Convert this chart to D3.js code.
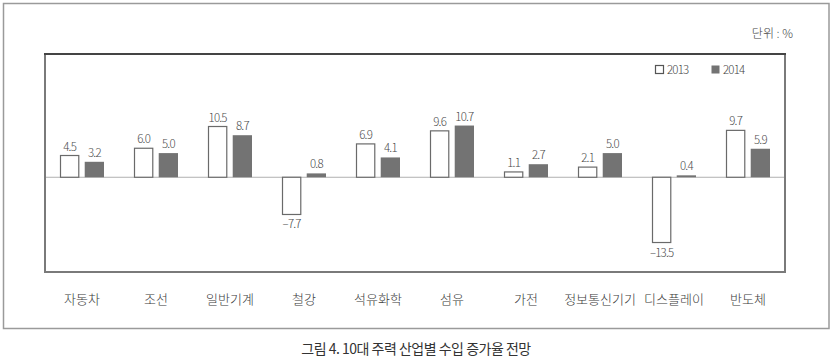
<!DOCTYPE html>
<html><head><meta charset="utf-8">
<script src="https://cdn.jsdelivr.net/npm/d3@7"></script>
<style>
html,body{margin:0;padding:0;background:#fff;}
svg{display:block;}
text{font-family:"Noto Sans CJK KR","Noto Sans",sans-serif;}
</style></head><body>
<svg id="chart" width="833" height="360"></svg>
<script>
const categories = ["자동차","조선","일반기계","철강","석유화학","섬유","가전","정보통신기기","디스플레이","반도체"];
const series = ["2013","2014"];
const values2013 = [4.5, 6.0, 10.5, -7.7, 6.9, 9.6, 1.1, 2.1, -13.5, 9.7];
const values2014 = [3.2, 5.0, 8.7, 0.8, 4.1, 10.7, 2.7, 5.0, 0.4, 5.9];
const unitLabel = "단위 : %";
const caption = "그림 4. 10대 주력 산업별 수입 증가율 전망";

const svg = d3.select("#chart");
const plot = {left:45, right:785, top:54, bottom:272};

// outer frame
svg.append("rect").attr("x",3.5).attr("y",3.5).attr("width",825.5).attr("height",325)
  .attr("fill","none").attr("stroke","#9a9a9a").attr("stroke-width",1.5);

const x = d3.scaleBand().domain(categories).range([plot.left, plot.right]).paddingInner(0).paddingOuter(0);
const xs = d3.scaleBand().domain(series).range([-22, 22]).paddingInner(0.22);
const y = d3.scaleLinear().domain([-19.6, 25.5]).range([plot.bottom, plot.top]);

// zero line
svg.append("line").attr("x1",plot.left).attr("x2",plot.right)
  .attr("y1",y(0)).attr("y2",y(0)).attr("stroke","#b0b0b0").attr("stroke-width",1);

const data = categories.map((c,i)=>({c, vals:[{s:"2013",v:values2013[i]},{s:"2014",v:values2014[i]}]}));
const fmt = v => (v<0 ? "\u2013" : "") + Math.abs(v).toFixed(1);

const g = svg.selectAll("g.cat").data(data).join("g").attr("class","cat")
  .attr("transform", d=>`translate(${x(d.c)+x.bandwidth()/2},0)`);

g.selectAll("rect").data(d=>d.vals).join("rect")
  .attr("x", d=>xs(d.s)+(d.s==="2013"?0.5:0))
  .attr("width", d=>xs.bandwidth()-(d.s==="2013"?1:0))
  .attr("y", d=>Math.min(y(d.v),y(0)))
  .attr("height", d=>Math.abs(y(d.v)-y(0)))
  .attr("fill", d=>d.s==="2013"?"#fff":"#737373")
  .attr("stroke", d=>d.s==="2013"?"#6a6a6a":"none")
  .attr("stroke-width",1.2);

g.selectAll("text.val").data(d=>d.vals).join("text").attr("class","val")
  .attr("x", d=>xs(d.s)+xs.bandwidth()/2)
  .attr("y", d=>d.v>=0 ? y(d.v)-5 : y(d.v)+14)
  .attr("text-anchor","middle").attr("font-size",11.5).attr("fill","#4a4a4a")
  .attr("font-weight",300).attr("letter-spacing",-0.8)
  .text(d=>fmt(d.v));

// plot frame
svg.append("rect").attr("x",plot.left).attr("y",plot.top)
  .attr("width",plot.right-plot.left).attr("height",plot.bottom-plot.top)
  .attr("fill","none").attr("stroke","#7a7a7a").attr("stroke-width",2);
svg.append("line").attr("x1",plot.left-1).attr("x2",plot.right+1).attr("y1",plot.top).attr("y2",plot.top)
  .attr("stroke","#444").attr("stroke-width",2);

// category axis labels
const xAxis = d3.axisBottom(x).tickSize(0).tickPadding(0);
const ax = svg.append("g").attr("transform",`translate(0,${plot.bottom})`).call(xAxis);
ax.select(".domain").remove();
ax.selectAll("text").attr("y",23).attr("font-size",13).attr("fill","#3a3a3a")
  .attr("font-family","\"Noto Sans CJK KR\",sans-serif").attr("font-weight",300);

// unit
svg.append("text").attr("x",793).attr("y",38).attr("text-anchor","end")
  .attr("font-size",12).attr("fill","#444").attr("font-weight",300).text(unitLabel);

// legend
const lg = svg.append("g").attr("class","legend");
const legendX = [655, 711];
series.forEach((s,i)=>{
  lg.append("rect").attr("x",legendX[i]+0.5).attr("y",65.5).attr("width",8).attr("height",8)
    .attr("fill", i===0?"#fff":"#737373").attr("stroke", i===0?"#555":"none").attr("stroke-width",1.2);
  lg.append("text").attr("x",legendX[i]+12).attr("y",74).attr("font-size",11.5)
    .attr("fill","#444").attr("font-weight",300).attr("letter-spacing",-0.8).text(s);
});

// caption
svg.append("text").attr("x",416).attr("y",354).attr("text-anchor","middle")
  .attr("font-size",14).attr("fill","#333").attr("font-weight",400).attr("letter-spacing",-0.5).text(caption);
</script>
</body></html>
